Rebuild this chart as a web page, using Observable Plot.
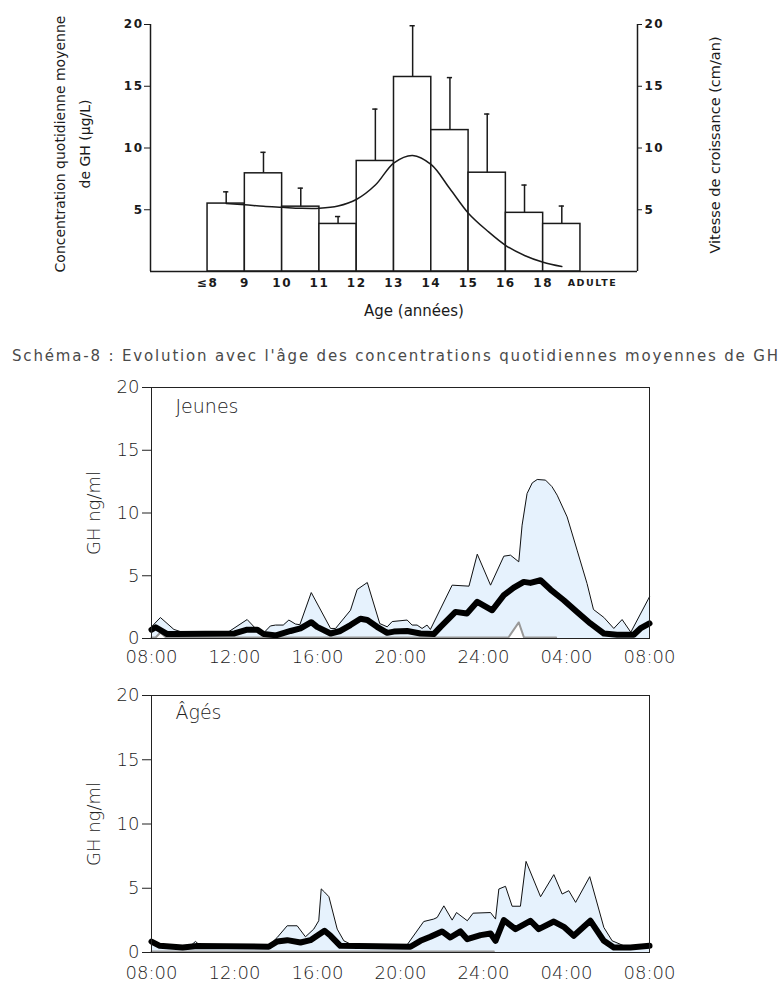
<!DOCTYPE html>
<html><head><meta charset="utf-8">
<script src="https://cdn.jsdelivr.net/npm/d3@7"></script>
<script src="https://cdn.jsdelivr.net/npm/@observablehq/plot@0.6"></script>
<style>
body{margin:0;background:#fff;}
#wrap{position:relative;width:784px;height:984px;overflow:hidden;background:#fff;}
#wrap > svg{position:absolute;left:0;}
.bar [aria-label="x-axis tick label"] text{letter-spacing:1.5px;}
.bar [aria-label="y-axis tick label"] text{letter-spacing:1.5px;}
.bar .adulte text{letter-spacing:1.5px;}
</style></head><body><div id="wrap"></div>
<script>
// ---------- Top chart: GH by age (bars) + growth velocity (curve) ----------
const ageLabels = ["≤8","9","10","11","12","13","14","15","16","18","ADULTE"];
const ghMean = [5.5, 7.95, 5.25, 3.85, 8.95, 15.75, 11.45, 8.0, 4.75, 3.85];
const ghErrTop = [6.45, 9.65, 6.75, 4.45, 13.15, 19.9, 15.7, 12.75, 7.0, 5.3];
const velocityAge = [0.5,1,1.5,2,2.5,3,3.5,4,4.5,5,5.5,6,6.5,7,7.5,8,8.5,9,9.5];
const velocity = [5.5,5.4,5.28,5.2,5.12,5.12,5.3,5.85,7.0,8.8,9.4,8.65,6.7,4.7,3.3,2.1,1.3,0.75,0.4];
const barTicks = [5,10,15,20];
const caption = "Schéma-8 : Evolution avec  l'âge des concentrations quotidiennes moyennes de GH";

// ---------- Bottom charts: 24 h GH profiles ----------
const hourTicks = [0,4,8,12,16,20,24];
const hourLabels = ["08:00","12:00","16:00","20:00","24:00","04:00","08:00"];
const ghTicks = [0,5,10,15,20];

const jeunesUpperH = [0,0.43,1.08,1.4,3.73,4.61,5.09,5.41,5.73,5.98,6.35,6.62,6.94,7.15,7.7,8.63,8.87,9.59,9.91,10.4,11.0,11.36,11.6,12.32,12.56,12.8,13.04,13.28,13.44,14.49,15.3,15.7,16.34,16.98,17.3,17.7,17.86,18.1,18.35,18.59,18.99,19.3,19.55,20.03,20.51,20.99,21.3,21.8,22.28,22.68,23.1,24];
const jeunesUpperV = [0.93,1.67,0.72,0.55,0.55,1.51,0.67,0.45,1.0,1.07,1.07,1.47,1.15,1.1,3.66,0.8,0.8,2.25,3.9,4.46,1.19,0.93,1.35,1.47,1.07,1.07,0.8,1.07,0.72,4.25,4.17,6.72,4.25,6.56,6.64,6.11,9.03,11.55,12.4,12.67,12.62,12.1,11.42,9.69,7.04,4.38,2.31,1.68,0.8,1.51,0.5,3.32];
const jeunesMeanH = [0,0.2,0.76,1.2,4.0,4.61,5.1,5.41,6.0,6.7,7.18,7.7,7.98,8.63,9.1,9.59,10.07,10.4,10.87,11.36,11.68,12.32,12.96,13.6,13.93,14.65,15.2,15.7,16.42,16.98,17.46,17.94,18.26,18.75,19.23,19.87,20.51,21.15,21.8,22.44,23.24,23.56,24];
const jeunesMeanV = [0.7,0.9,0.35,0.35,0.4,0.7,0.7,0.35,0.25,0.6,0.8,1.3,0.93,0.4,0.6,1.07,1.57,1.47,0.93,0.45,0.55,0.6,0.4,0.35,0.93,2.12,1.99,2.92,2.25,3.45,4.06,4.51,4.43,4.64,3.9,3.05,2.12,1.2,0.4,0.3,0.3,0.8,1.2];
const jeunesLowerH = [0,0.2,0.43,0.7,17.2,17.7,17.95,19.5];
const jeunesLowerV = [0,0,0.4,0,0,1.2,0,0];

const agesUpperH = [0,0.35,1.88,2.12,2.36,5.65,6.06,6.54,7.02,7.42,7.82,8.06,8.18,8.34,8.55,8.95,9.27,9.6,12.32,13.12,13.6,13.77,14.09,14.49,14.7,15.22,15.5,16.34,16.58,16.74,17.06,17.38,17.78,18.05,18.75,19.39,19.79,20.11,20.44,21.12,21.8,22.2,22.77,24];
const agesUpperV = [0.91,0.52,0.52,0.86,0.52,0.52,1.17,2.08,2.08,1.22,1.82,2.47,4.95,4.7,4.34,1.82,0.91,0.65,0.6,2.41,2.6,2.73,3.63,2.52,3.11,2.47,3.06,3.11,2.6,4.94,5.15,3.6,3.6,7.09,4.34,6.06,4.55,4.81,3.9,5.9,1.95,0.91,0.52,0.52];
const agesMeanH = [0,0.4,1.5,2.2,5.65,6.06,6.54,7.18,7.66,7.98,8.34,8.63,9.1,12.48,12.96,13.44,14.0,14.4,14.89,15.22,15.86,16.34,16.58,16.98,17.54,18.26,18.66,19.39,19.87,20.35,21.15,21.8,22.28,23.08,24];
const agesMeanV = [0.85,0.52,0.39,0.5,0.45,0.86,0.96,0.78,0.96,1.3,1.69,1.3,0.52,0.45,0.91,1.22,1.64,1.17,1.64,1.04,1.35,1.48,0.91,2.52,1.82,2.47,1.82,2.41,2.0,1.3,2.47,0.91,0.39,0.39,0.52];
const agesLowerH = [0,16.5];
const agesLowerV = [0,0];

const wrap = document.getElementById("wrap");
const ink = "#1a1a1a";
const topFont = "DejaVu Sans, sans-serif";
const idx = d3.range(ghMean.length);
const ageDomain = [-1.53, 11.53];

const bar = Plot.plot({
  width: 784, height: 325,
  marginLeft: 150, marginRight: 147, marginTop: 24, marginBottom: 54,
  className: "bar",
  style: {fontFamily: topFont, color: ink, background: "transparent", overflow: "visible"},
  x: {type: "linear", domain: ageDomain},
  y: {domain: [0, 20]},
  marks: [
    Plot.rect(idx, {x1: i => i, x2: i => i + 1, y1: 0, y2: i => ghMean[i], fill: "white", stroke: ink, strokeWidth: 1.5}),
    Plot.ruleX(idx, {x: i => i + 0.5, y1: i => ghMean[i], y2: i => ghErrTop[i], stroke: ink, strokeWidth: 1.5}),
    Plot.ruleY(idx, {y: i => ghErrTop[i], x1: i => i + 0.43, x2: i => i + 0.57, stroke: ink, strokeWidth: 1.5}),
    Plot.line(velocityAge, {x: d => d, y: (d, i) => velocity[i], curve: "catmull-rom", stroke: ink, strokeWidth: 1.5}),
    Plot.ruleY([0], {stroke: ink, strokeWidth: 1.5}),
    Plot.ruleX([ageDomain[0]], {y1: 0, y2: 20, stroke: ink, strokeWidth: 1.5}),
    Plot.ruleX([ageDomain[1]], {y1: 0, y2: 20, stroke: ink, strokeWidth: 1.5}),
    Plot.axisY({anchor: "left", ticks: barTicks, tickSize: 6, tickPadding: 1, fontSize: 12, fontWeight: "bold", label: null}),
    Plot.axisY({anchor: "right", ticks: barTicks, tickSize: 4, tickPadding: 3, fontSize: 12, fontWeight: "bold", label: null}),
    Plot.axisX({ticks: d3.range(ageLabels.length - 1), tickFormat: i => ageLabels[i], tickSize: 0, tickPadding: 7, fontSize: 12, fontWeight: "bold", label: null}),
    Plot.text([ageLabels.length - 1], {x: d => d, text: d => ageLabels[d], frameAnchor: "bottom", lineAnchor: "top", dx: 12, dy: 8, fontSize: 9.5, fontWeight: "bold", className: "adulte"}),
    Plot.text(["Concentration quotidienne moyenne\nde GH (µg/L)"], {frameAnchor: "left", textAnchor: "middle", rotate: -90, dx: -81, dy: -4, fontSize: 14, lineHeight: 1.75, fill: ink}),
    Plot.text(["Vitesse de croissance (cm/an)"], {frameAnchor: "right", textAnchor: "middle", rotate: -90, dx: 78, dy: -3, fontSize: 14.5, fill: ink}),
    Plot.text(["Age (années)"], {frameAnchor: "bottom", dx: 20, dy: 44, fontSize: 15, fill: ink})
  ]
});
bar.style.top = "0px";
wrap.appendChild(bar);

// caption
const cap = d3.create("svg").attr("width", 784).attr("height", 30).style("top", "340px");
cap.append("text").attr("x", 12).attr("y", 21).attr("textLength", 766).attr("lengthAdjust", "spacing")
  .attr("font-family", topFont).attr("font-size", 15).attr("fill", "#4a4a4a").text(caption);
wrap.appendChild(cap.node());

const gFont = "DejaVu Sans, sans-serif";
function profile(o) {
  const up = o.upperH.map((h, i) => ({h, v: o.upperV[i]}));
  const mean = o.meanH.map((h, i) => ({h, v: o.meanV[i]}));
  const low = o.lowerH.map((h, i) => ({h, v: o.lowerV[i]}));
  const p = Plot.plot({
    width: 784, height: o.height,
    marginLeft: 151, marginRight: 135, marginTop: 17, marginBottom: 32,
    style: {fontFamily: gFont, fontWeight: 200, color: "#222", background: "transparent", overflow: "visible"},
    x: {domain: [0, 24]},
    y: {domain: [0, 20]},
    marks: [
      Plot.areaY(up, {x: "h", y: "v", fill: "#e6f2fd"}),
      Plot.areaY(low, {x: "h", y: "v", fill: "white"}),
      Plot.line(up, {x: "h", y: "v", stroke: "#111", strokeWidth: 1}),
      Plot.line(low, {x: "h", y: "v", stroke: "#999", strokeWidth: 2, dy: -1}),
      Plot.line(mean, {x: "h", y: "v", stroke: "#000", strokeWidth: 6, strokeLinejoin: "round"}),
      Plot.frame({stroke: "#222", strokeWidth: 1}),
      Plot.axisY({ticks: ghTicks, tickSize: 9, tickPadding: 3, fontSize: 18, label: null}),
      Plot.axisX({ticks: hourTicks, tickFormat: h => hourLabels[hourTicks.indexOf(h)], tickSize: 0, tickPadding: o.pad, fontSize: 18, label: null}),
      Plot.text([o.title], {frameAnchor: "top-left", textAnchor: "start", lineAnchor: "top", dx: 24, dy: o.titleDy, fontSize: 19, fill: "#222"}),
      Plot.text(["GH ng/ml"], {frameAnchor: "left", textAnchor: "middle", rotate: -90, dx: -57, fontSize: 18, fill: "#222"})
    ]
  });
  p.style.top = o.top + "px";
  wrap.appendChild(p);
}
profile({upperH: jeunesUpperH, upperV: jeunesUpperV, meanH: jeunesMeanH, meanV: jeunesMeanV, lowerH: jeunesLowerH, lowerV: jeunesLowerV, title: "Jeunes", top: 370, height: 300, pad: 12, titleDy: 12});
profile({upperH: agesUpperH, upperV: agesUpperV, meanH: agesMeanH, meanV: agesMeanV, lowerH: agesLowerH, lowerV: agesLowerV, title: "Âgés", top: 678, height: 306, pad: 14, titleDy: 10});
</script></body></html>
